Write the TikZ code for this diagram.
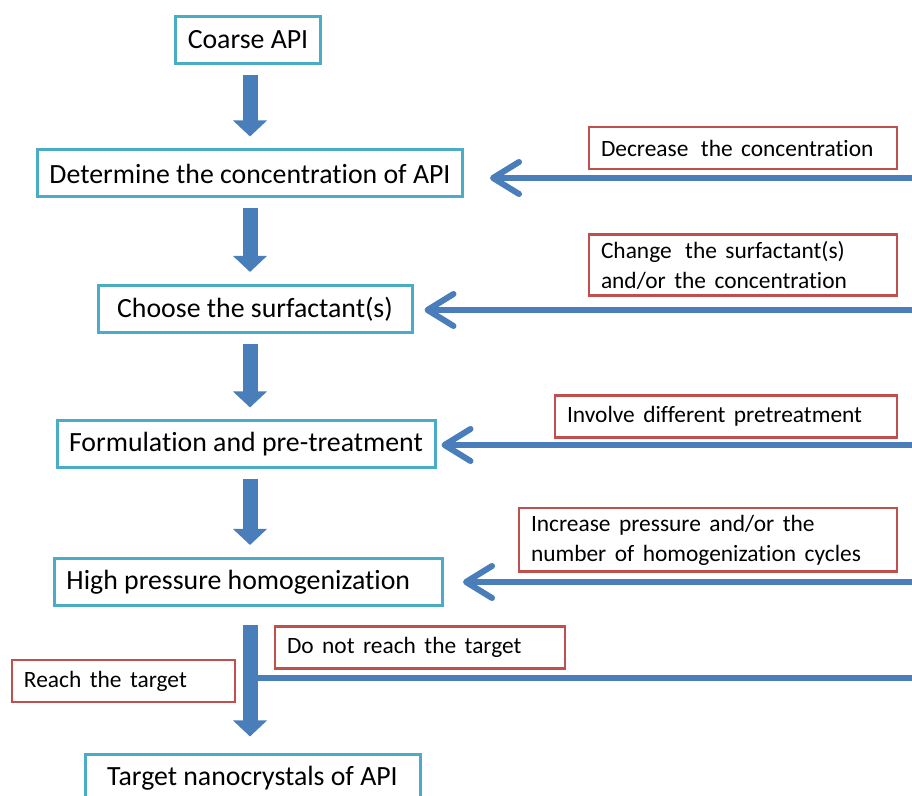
\documentclass[tikz,border=0pt]{standalone}
\usepackage{fontspec}
\setmainfont[Ligatures=NoCommon]{Carlito}
\newfontfamily\notefamily[Ligatures=NoCommon, WordSpace=1.6]{Carlito}
\usetikzlibrary{arrows.meta}
\definecolor{stageblue}{RGB}{75,172,198}
\definecolor{noteRed}{RGB}{192,80,77}
\definecolor{flowblue}{RGB}{74,126,187}
\newcommand{\stagefont}{\fontsize{13.9}{16}\selectfont}
\newcommand{\notefont}{\notefamily\fontsize{11.7}{15}\selectfont}

\begin{document}
\begin{tikzpicture}[x=0.5pt, y=-0.5pt,
  stage/.style={draw=stageblue, line width=1.5pt, font=\stagefont, inner xsep=6pt, minimum height=23.5pt},
  note/.style={draw=noteRed, line width=1.3pt, font=\notefont, align=flush left, inner xsep=6pt, minimum height=21pt},
  down/.style={draw=flowblue, line width=7.5pt, -{Triangle[width=16.5pt,length=8pt]}},
  back/.style={draw=flowblue, line width=3pt, -{Straight Barb[length=13pt,width=16pt,round]}}]
\clip (0,0) rectangle (912,796);
% process steps
\node[stage, minimum width=72pt] (coarse) at (248,40) {Coarse API};
\node[stage, minimum width=212pt] (determine) at (250,173.5) {Determine the concentration of API};
\node[stage, minimum width=157pt] (choose) at (255,309) {Choose the surfactant(s)};
\node[stage, minimum width=189pt] (formulation) at (246,444.5) {Formulation and pre-treatment};
\node[stage, text width=182pt, align=flush left] (hph) at (248.5,582) {High pressure homogenization};
\node[stage, minimum width=167.5pt] (target) at (252.5,778.5) {Target nanocrystals of API};
%
% remarks on the loops
\node[note, text width=142pt] (decrease) at (743,148) {Decrease\hspace{2pt} the concentration};
\node[note, text width=142pt] (change) at (743,265) {Change\hspace{2.5pt} the surfactant(s)\\and/or the concentration};
\node[note, text width=159pt] (involve) at (726,416.5) {Involve different pretreatment};
\node[note, text width=177pt] (increase) at (708,540) {Increase pressure and/or the\\number of homogenization cycles};
\node[note, text width=133pt] (notreach) at (420,647.5) {Do not reach the target};
\node[note, text width=99.5pt] (reach) at (123.5,681) {Reach the target};
%
% main axis and loose ends at the right edge
\coordinate (axis) at (250,0);
\coordinate (r1) at (912,178);
\coordinate (r2) at (912,310);
\coordinate (r3) at (912,445);
\coordinate (r4) at (912,582);
\coordinate (r5) at (912,678);
%
\draw[draw=flowblue, line width=3pt] (r5) -- (r5 -| axis);
\draw[down, shorten <=5pt, shorten >=6pt] (axis |- coarse.south) -- (axis |- determine.north);
\draw[down, shorten <=5pt, shorten >=6pt] (axis |- determine.south) -- (axis |- choose.north);
\draw[down, shorten <=5pt, shorten >=6pt] (axis |- choose.south) -- (axis |- formulation.north);
\draw[down, shorten <=5pt, shorten >=6pt] (axis |- formulation.south) -- (axis |- hph.north);
\draw[down, shorten <=9pt, shorten >=8.5pt] (axis |- hph.south) -- (axis |- target.north);
%
\draw[back, shorten >=13pt] (r1) -- (r1 -| determine.east);
\draw[back, shorten >=5.5pt] (r2) -- (r2 -| choose.east);
\draw[back, shorten >=2.5pt] (r3) -- (r3 -| formulation.east);
\draw[back, shorten >=9.5pt] (r4) -- (r4 -| hph.east);
\end{tikzpicture}
\end{document}
